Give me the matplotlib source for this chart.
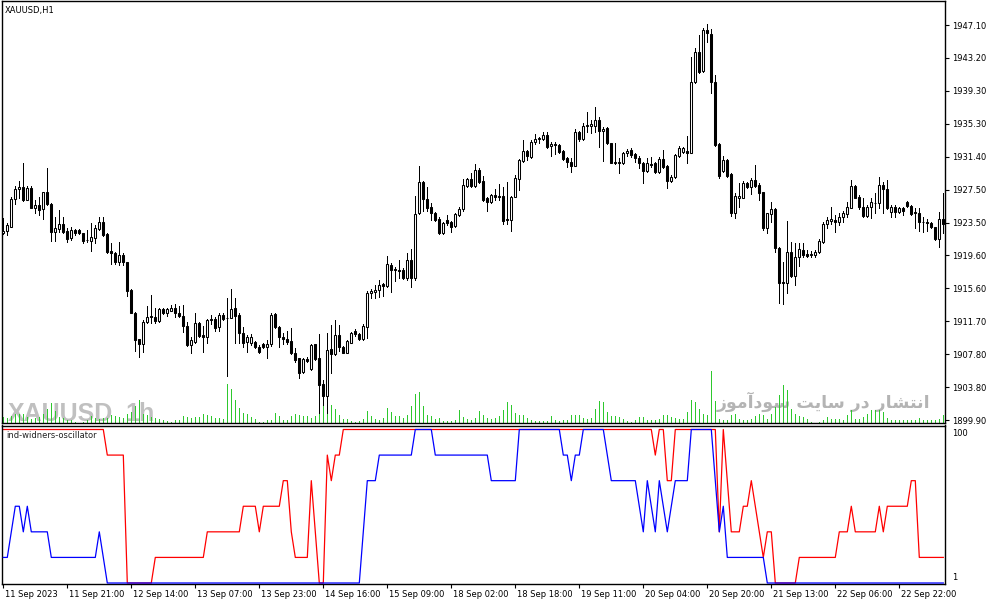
import matplotlib
matplotlib.use('Agg')
import matplotlib.pyplot as plt
from matplotlib import font_manager as fm
from matplotlib.transforms import ScaledTranslation
import numpy as np

# ---------------- data ----------------
opens = [1922.21,1922.45,1923.00,1926.27,1927.47,1927.70,1926.19,1927.58,1925.19,1925.55,
 1925.08,1927.11,1925.67,1922.41,1922.69,1923.32,1922.53,1921.61,1922.61,1922.61,
 1922.21,1921.45,1921.33,1921.61,1922.73,1923.52,1922.09,1920.10,1919.82,1918.82,
 1919.62,1918.74,1915.44,1912.73,1909.54,1909.02,1911.65,1912.33,1912.21,1911.77,
 1913.17,1912.73,1912.97,1913.33,1912.73,1912.33,1911.13,1908.86,1909.26,1911.45,
 1910.06,1909.78,1911.97,1911.97,1910.98,1912.45,1912.13,1912.05,1913.25,1912.45,
 1910.26,1909.18,1909.14,1909.26,1908.67,1908.94,1908.59,1908.94,1912.53,1910.98,
 1909.86,1909.58,1909.34,1907.87,1907.27,1905.60,1907.19,1906.00,1908.94,1907.35,
 1904.20,1902.81,1908.34,1907.74,1910.05,1908.66,1907.94,1909.14,1910.53,1910.13,
 1909.54,1911.05,1915.03,1915.23,1915.43,1916.11,1915.91,1918.42,1917.94,1917.82,
 1917.82,1916.83,1919.02,1916.83,1924.59,1928.38,1926.31,1925.31,1924.67,1923.88,
 1922.20,1923.80,1923.52,1923.08,1924.39,1925.07,1927.90,1928.66,1927.90,1929.77,
 1928.50,1926.39,1925.91,1926.78,1926.66,1926.66,1923.88,1923.80,1926.58,1928.70,
 1930.85,1932.04,1931.36,1933.08,1933.48,1933.44,1933.95,1932.64,1932.88,1932.76,
 1932.04,1931.16,1930.77,1930.29,1934.27,1933.48,1935.03,1935.03,1935.03,1935.75,
 1934.47,1934.83,1932.96,1930.73,1930.77,1930.57,1931.84,1932.17,1931.65,1931.25,
 1930.57,1929.70,1930.45,1930.57,1929.58,1931.05,1930.29,1928.50,1928.90,1931.49,
 1931.89,1932.05,1931.85,1940.33,1943.84,1941.61,1946.51,1946.03,1940.25,1932.88,
 1929.70,1930.97,1929.30,1924.68,1926.47,1926.47,1928.18,1927.71,1928.58,1927.98,
 1927.11,1922.81,1924.52,1925.12,1920.50,1916.35,1916.23,1919.94,1917.15,1919.34,
 1920.22,1919.74,1919.62,1919.62,1919.94,1921.21,1923.32,1923.72,1923.80,1923.60,
 1924.12,1924.48,1925.28,1927.86,1926.59,1925.32,1924.28,1925.32,1925.87,1925.79,
 1927.98,1927.47,1924.80,1925.32,1924.80,1925.20,1925.99,1925.51,1924.80,1924.68,
 1923.60,1923.52,1923.48,1922.93,1921.49,1923.88]

highs = [1924.00,1923.40,1926.51,1927.86,1928.50,1930.57,1927.86,1927.86,1926.19,1926.51,
 1927.19,1929.97,1925.79,1924.20,1925.00,1924.12,1922.81,1922.92,1922.69,1922.69,
 1922.29,1922.61,1923.40,1923.20,1924.12,1924.20,1922.21,1921.09,1919.94,1921.13,
 1919.90,1918.82,1915.52,1912.85,1909.62,1911.85,1913.56,1914.84,1913.25,1913.25,
 1913.33,1913.33,1913.60,1913.72,1913.56,1913.64,1911.65,1909.86,1912.65,1911.65,
 1911.13,1911.97,1912.45,1912.25,1912.65,1912.65,1914.44,1915.52,1914.44,1912.65,
 1911.06,1910.06,1910.18,1909.34,1908.86,1909.06,1909.46,1912.65,1912.65,1911.13,
 1910.26,1910.58,1910.86,1908.47,1907.35,1907.27,1907.47,1908.94,1908.98,1910.17,
 1904.68,1910.33,1911.25,1911.85,1911.25,1908.74,1909.46,1910.45,1910.73,1910.33,
 1911.33,1915.31,1915.51,1916.03,1916.63,1916.23,1919.53,1918.62,1918.22,1919.02,
 1918.02,1919.81,1920.29,1926.66,1930.25,1928.50,1927.70,1925.87,1924.79,1924.19,
 1923.60,1924.39,1923.68,1924.59,1925.39,1928.66,1928.78,1929.45,1930.49,1929.97,
 1929.05,1926.58,1926.86,1927.46,1928.10,1927.78,1928.38,1926.66,1929.17,1931.05,
 1933.36,1932.16,1933.36,1934.07,1933.75,1934.35,1934.35,1933.16,1933.16,1932.88,
 1932.16,1931.36,1931.24,1934.63,1934.47,1935.35,1936.66,1935.75,1937.34,1936.14,
 1934.87,1934.95,1933.04,1932.96,1931.16,1931.96,1932.30,1932.37,1931.77,1931.45,
 1930.77,1931.17,1931.37,1930.77,1931.37,1932.17,1930.37,1929.18,1931.69,1932.64,
 1932.56,1933.84,1943.32,1944.31,1945.91,1946.70,1947.22,1946.58,1941.13,1932.96,
 1931.45,1931.05,1929.46,1926.99,1928.26,1928.46,1928.38,1928.78,1930.37,1928.18,
 1927.19,1924.68,1925.99,1925.20,1920.62,1918.82,1923.68,1921.21,1921.01,1921.09,
 1921.01,1920.22,1920.14,1920.22,1921.49,1923.60,1924.20,1925.32,1924.40,1924.68,
 1924.92,1925.99,1928.58,1927.98,1926.79,1926.39,1925.59,1926.39,1926.99,1928.98,
 1928.38,1928.58,1925.59,1925.59,1925.40,1925.32,1926.07,1925.59,1925.20,1925.20,
 1924.20,1923.88,1923.60,1923.01,1924.80,1926.99]

lows = [1922.13,1922.01,1922.92,1925.71,1926.39,1926.11,1926.19,1925.19,1924.60,1924.40,
 1923.92,1925.59,1921.29,1921.29,1922.41,1922.21,1921.21,1921.41,1922.01,1922.09,
 1921.01,1921.21,1920.14,1921.01,1922.61,1921.89,1919.82,1918.54,1918.54,1918.42,
 1918.42,1914.76,1912.65,1908.19,1907.39,1908.07,1911.53,1911.53,1911.53,1911.65,
 1912.57,1912.33,1912.97,1912.25,1912.25,1910.46,1908.75,1907.95,1909.14,1909.86,
 1907.99,1909.14,1911.33,1910.58,1910.58,1911.85,1905.16,1912.05,1909.14,1909.06,
 1908.67,1907.99,1908.86,1908.47,1907.87,1908.47,1907.27,1908.75,1910.86,1908.67,
 1908.98,1908.98,1907.75,1906.87,1904.96,1905.48,1906.87,1905.88,1907.07,1900.69,
 1901.69,1900.78,1905.47,1907.67,1908.18,1907.86,1907.86,1909.06,1909.98,1909.46,
 1909.46,1909.66,1914.44,1914.44,1914.64,1914.72,1915.83,1915.23,1916.55,1916.83,
 1916.71,1916.63,1915.83,1916.63,1924.51,1924.91,1924.91,1923.80,1923.68,1922.12,
 1922.12,1923.20,1922.32,1923.00,1924.27,1924.91,1927.78,1927.78,1927.78,1928.26,
 1926.11,1924.91,1925.79,1926.19,1926.19,1923.32,1923.28,1922.52,1926.50,1927.38,
 1930.77,1930.97,1931.24,1932.88,1933.04,1933.36,1932.44,1931.48,1931.68,1931.84,
 1930.97,1930.17,1929.57,1930.25,1933.28,1933.36,1934.35,1934.15,1934.35,1932.56,
 1930.89,1932.84,1930.57,1930.49,1929.45,1930.49,1931.50,1931.37,1930.77,1929.98,
 1928.26,1929.58,1930.17,1929.46,1929.46,1930.06,1927.67,1928.38,1928.78,1931.37,
 1931.77,1930.65,1931.77,1940.13,1941.41,1941.53,1945.11,1939.02,1932.64,1928.86,
 1929.58,1928.98,1924.28,1924.00,1925.40,1926.39,1927.59,1926.87,1927.78,1926.19,
 1922.61,1922.29,1923.52,1920.02,1913.84,1913.73,1915.04,1917.03,1916.04,1918.31,
 1919.34,1919.34,1919.34,1919.42,1919.82,1921.09,1922.81,1923.32,1922.33,1923.20,
 1923.60,1924.20,1925.20,1926.39,1925.08,1924.12,1924.20,1924.00,1924.68,1925.20,
 1924.60,1925.08,1924.20,1924.20,1924.60,1924.40,1925.40,1924.40,1922.89,1922.53,
 1922.41,1922.53,1922.81,1921.41,1920.62,1922.21]

closes = [1922.53,1923.16,1926.27,1927.47,1927.70,1926.19,1927.58,1925.19,1925.55,1925.00,
 1927.11,1925.67,1922.41,1922.81,1923.32,1922.41,1921.53,1922.61,1922.21,1922.29,
 1921.33,1921.37,1921.73,1922.81,1923.52,1922.01,1920.02,1919.82,1918.82,1919.62,
 1918.74,1915.36,1912.73,1909.46,1908.98,1911.65,1912.25,1912.17,1911.77,1913.17,
 1912.73,1913.17,1913.33,1912.65,1912.33,1911.13,1908.86,1909.46,1911.45,1909.98,
 1909.78,1911.85,1911.81,1910.94,1912.45,1911.97,1912.09,1913.13,1912.37,1910.26,
 1909.14,1909.78,1909.86,1908.59,1907.99,1908.59,1908.98,1912.45,1910.98,1909.78,
 1909.54,1909.18,1907.87,1907.07,1905.56,1907.19,1906.99,1908.86,1907.19,1904.08,
 1902.81,1908.26,1907.74,1910.05,1908.58,1907.94,1909.34,1910.25,1910.13,1909.54,
 1911.13,1915.11,1915.31,1915.43,1916.03,1915.95,1918.54,1917.82,1917.78,1917.70,
 1916.91,1919.02,1916.83,1924.51,1928.38,1926.27,1925.19,1924.67,1923.80,1922.20,
 1923.40,1923.48,1923.00,1924.47,1925.11,1927.98,1928.66,1927.90,1929.77,1928.38,
 1926.19,1925.91,1926.78,1926.58,1926.58,1923.68,1923.84,1926.58,1928.78,1930.97,
 1932.04,1931.44,1933.08,1933.48,1933.55,1933.95,1932.56,1932.88,1932.72,1931.96,
 1931.09,1930.69,1930.29,1934.27,1933.48,1935.03,1935.15,1935.23,1935.75,1934.47,
 1934.67,1932.96,1930.65,1930.65,1930.57,1931.84,1932.10,1931.57,1931.17,1930.57,
 1929.70,1930.65,1930.37,1929.58,1931.05,1930.17,1928.50,1928.98,1931.57,1932.45,
 1932.45,1931.85,1940.33,1943.84,1941.53,1946.51,1946.11,1940.25,1932.76,1929.06,
 1930.97,1929.06,1924.68,1926.67,1926.71,1928.18,1927.71,1928.58,1927.90,1926.99,
 1922.81,1924.60,1925.12,1920.50,1916.23,1916.23,1919.94,1917.15,1919.42,1920.30,
 1919.62,1919.54,1919.70,1920.02,1921.33,1923.32,1923.80,1923.92,1923.60,1924.20,
 1924.60,1925.32,1927.86,1926.47,1925.32,1924.28,1925.32,1925.99,1925.83,1927.98,
 1927.47,1925.20,1925.32,1924.80,1925.28,1924.92,1925.51,1924.52,1924.60,1923.52,
 1923.52,1923.44,1922.93,1921.49,1923.88,1923.28]

volumes = [600,530,730,930,930,930,600,430,530,600,
 930,1430,2000,1200,600,530,330,270,100,30,
 100,270,670,530,430,530,500,770,670,600,
 530,870,1100,1700,2270,930,800,600,530,430,
 330,200,130,270,330,670,600,530,600,600,
 930,770,670,530,500,430,3870,3430,2270,1530,
 1000,930,600,430,100,100,270,330,1000,670,
 330,330,670,930,800,670,670,530,670,
 1000,1830,1000,1830,1430,830,430,430,170,100,
 170,430,1170,730,430,330,500,1500,1070,730,
 670,500,830,1670,2930,3100,1670,830,730,400,
 500,170,170,230,330,1330,600,430,330,500,
 1230,770,500,430,500,670,1330,2100,1830,1000,
 830,830,500,330,170,170,170,230,670,330,
 230,330,330,770,770,770,500,430,500,1430,
 2170,2070,1070,730,670,600,430,170,100,
 270,600,600,330,270,330,430,830,770,600,
 500,430,430,1100,2270,2100,1430,930,770,5170,
 2170,430,270,270,770,930,430,270,270,430,
 670,930,770,430,930,1600,2770,3770,3270,1430,
 930,670,600,430,100,30,100,270,600,430,
 430,430,330,770,1270,430,430,600,930,1270,
 1330,1330,1100,500,330,330,270,330,270,270,
 270,500,270,270,330,330,430,770]

osc_blue = [17.5,17.5,34,50.5,50.5,34,50.5,34,34,34,
 34,34,17.5,17.5,17.5,17.5,17.5,17.5,17.5,17.5,
 17.5,17.5,17.5,17.5,34,17.5,1,1,1,1,
 1,1,1,1,1,1,1,1,1,1,
 1,1,1,1,1,1,1,1,1,1,
 1,1,1,1,1,1,1,1,1,1,
 1,1,1,1,1,1,1,1,1,1,
 1,1,1,1,1,1,1,1,1,1,
 1,1,1,1,1,1,1,1,1,1,
 34,67,67,67,83.5,83.5,83.5,83.5,83.5,83.5,
 83.5,83.5,83.5,100,100,100,100,100,83.5,83.5,
 83.5,83.5,83.5,83.5,83.5,83.5,83.5,83.5,83.5,83.5,
 83.5,83.5,67,67,67,67,67,67,67,100,
 100,100,100,100,100,100,100,100,100,100,
 83.5,83.5,67,83.5,83.5,100,100,100,100,100,
 100,83.5,67,67,67,67,67,67,67,50.5,
 34,67,50.5,34,67,50.5,34,50.5,67,67,
 67,67,100,100,100,100,100,100,67,34,
 50.5,17.5,17.5,17.5,17.5,17.5,17.5,17.5,17.5,17.5,
 17.5,1,1,1,1,1,1,1,1,1,
 1,1,1,1,1,1,1,1,1,1,
 1,1,1,1,1,1,1,1,1,1,
 1,1,1,1,1,1,1,1,1,1,
 1,1,1,1,1,1]

osc_red = [100,100,100,100,100,100,100,100,100,100,
 100,100,100,100,100,100,100,100,100,100,
 100,100,100,100,100,100,83.5,83.5,83.5,83.5,
 83.5,1,1,1,1,1,1,1,17.5,17.5,
 17.5,17.5,17.5,17.5,17.5,17.5,17.5,17.5,17.5,17.5,
 17.5,34,34,34,34,34,34,34,34,34,
 50.5,50.5,50.5,50.5,34,50.5,50.5,50.5,50.5,50.5,
 67,67,34,17.5,17.5,17.5,17.5,67,34,1,
 1,83.5,67,83.5,83.5,100,100,100,100,100,
 100,100,100,100,100,100,100,100,100,100,
 100,100,100,100,100,100,100,100,100,100,
 100,100,100,100,100,100,100,100,100,100,
 100,100,100,100,100,100,100,100,100,100,
 100,100,100,100,100,100,100,100,100,100,
 100,100,100,100,100,100,100,100,100,100,
 100,100,100,100,100,100,100,100,100,100,
 100,100,100,83.5,100,100,67,67,100,100,
 100,100,100,100,100,100,100,100,100,34,
 100,67,34,34,34,50.5,50.5,67,50.5,34,
 17.5,34,34,1,1,1,1,1,1,17.5,
 17.5,17.5,17.5,17.5,17.5,17.5,17.5,17.5,17.5,34,
 34,34,50.5,34,34,34,34,34,34,50.5,
 34,50.5,50.5,50.5,50.5,50.5,50.5,67,67,17.5,
 17.5,17.5,17.5,17.5,17.5,17.5]

price_ticks = [1947.10,1943.17,1939.23,1935.30,1931.37,1927.43,1923.50,
               1919.57,1915.63,1911.70,1907.77,1903.83,1899.90]
price_labels = ["1947.10","1943.20","1939.30","1935.30","1931.40","1927.50","1923.50",
                "1919.60","1915.60","1911.70","1907.80","1903.80","1899.90"]
date_ticks = [0,16,32,48,64,80,96,112,128,144,160,176,192,208,224]
date_labels = ["11 Sep 2023","11 Sep 21:00","12 Sep 14:00","13 Sep 07:00","13 Sep 23:00",
               "14 Sep 16:00","15 Sep 09:00","18 Sep 02:00","18 Sep 18:00","19 Sep 11:00",
               "20 Sep 04:00","20 Sep 20:00","21 Sep 13:00","22 Sep 06:00","22 Sep 22:00"]

# ---------------- layout ----------------
W, H = 991, 605
fig = plt.figure(figsize=(W / 100, H / 100), dpi=100)
fig.patch.set_facecolor('white')

def rect(x0, y0, x1, y1):
    return [x0 / W, 1 - y1 / H, (x1 - x0) / W, (y1 - y0) / H]

names = {f.name for f in fm.fontManager.ttflist}
wm_family = 'Liberation Sans' if 'Liberation Sans' in names else 'DejaVu Sans'
plt.rcParams['font.family'] = ['DejaVu Sans']

XMIN, XMAX = -0.325, 235.425
PX = 0.72  # one pixel, in points

vol_ax = fig.add_axes(rect(2, 1, 945, 423), zorder=0)
ax = fig.add_axes(rect(2, 1, 945, 423), zorder=1)
ax.patch.set_visible(False)
osc = fig.add_axes(rect(2, 425.5, 945, 584), zorder=1)

x = np.arange(len(opens))

# volumes + watermarks (background)
vol_ax.set_xlim(XMIN, XMAX)
vol_ax.set_ylim(0, 42200)
vol_ax.axis('off')
vol_ax.text((8 - 2) / 943, 0.004, "XAUUSD", transform=vol_ax.transAxes,
            family=[wm_family, 'DejaVu Sans'], weight='bold', fontsize=18,
            color='#c0c0c0', ha='left', va='baseline', zorder=1)
vol_ax.text((125 - 2) / 943, 0.004, "1h", transform=vol_ax.transAxes,
            family=[wm_family, 'DejaVu Sans'], weight='bold', fontsize=18,
            color='#c0c0c0', ha='left', va='baseline', zorder=1)
persian = "\uFEAF\uFEEE\uFEE3\uFE81\uFEA9\uFEEE\uFEB3 \uFE96\uFEF3\uFE8E\uFEB3 \uFEAD\uFEA9 \uFEAD\uFE8E\uFEB8\uFE98\uFEE7\uFE8D"
vol_ax.text((930 - 2) / 943, (423 - 408) / 422, persian, transform=vol_ax.transAxes,
            family=['DejaVu Sans'], weight='bold', fontsize=12.5,
            color='#b4b4b4', ha='right', va='baseline', zorder=1)
vol_ax.vlines(x, 0, volumes, color='#2ec82e', lw=PX, zorder=2, antialiased=False)

# candles
body_low = np.minimum(opens, closes)
body_h = np.abs(np.array(closes) - np.array(opens))
face = ['white' if c > o else 'black' for o, c in zip(opens, closes)]
ax.vlines(x, lows, highs, color='black', lw=PX, zorder=2, antialiased=False)
ax.bar(x, body_h, bottom=body_low, width=0.5, color=face, edgecolor='black',
       linewidth=0.75, zorder=3)
ax.set_xlim(XMIN, XMAX)
ax.set_ylim(1899.542, 1949.968)
ax.set_xticks([])
ax.yaxis.tick_right()
ax.set_yticks(price_ticks, price_labels)
ax.tick_params(axis='y', direction='out', length=3, width=0.8, pad=2.2,
               labelsize=6, colors='black')
for s in ax.spines.values():
    s.set_linewidth(1.0)
    s.set_color('black')

ax.text(3 / 943, (423 - 10) / 422, "XAUUSD,H1", transform=ax.transAxes,
        fontsize=6, color='black', ha='left', va='center')

# oscillator
osc.plot(x, osc_red, color='#ff0000', lw=0.9, zorder=2)
osc.plot(x, osc_blue, color='#0000ff', lw=0.9, zorder=3)
osc.set_xlim(XMIN, XMAX)
osc.set_ylim(0.355, 102.58)
osc.set_yticks([])
osc.set_xticks(date_ticks, date_labels)
osc.tick_params(axis='x', direction='out', length=3, width=0.8, pad=1.5,
                labelsize=6, colors='black')
for lbl in osc.get_xticklabels():
    lbl.set_ha('left')
    lbl.set_transform(lbl.get_transform() + ScaledTranslation(1.5 / 100, 0, fig.dpi_scale_trans))
for s in osc.spines.values():
    s.set_linewidth(1.0)
    s.set_color('black')
osc.text((6 - 2) / 943, (584 - 435) / 158.5, "ind-widners-oscillator", transform=osc.transAxes,
         fontsize=6, color='#222222', ha='left', va='center')
osc.text((952 - 2) / 943, (584 - 433) / 158.5, "100", transform=osc.transAxes,
         fontsize=6, color='black', ha='left', va='center', clip_on=False)
osc.text((952 - 2) / 943, (584 - 577) / 158.5, "1", transform=osc.transAxes,
         fontsize=6, color='black', ha='left', va='center', clip_on=False)

fig.savefig('out.png', dpi=100, facecolor='white')
